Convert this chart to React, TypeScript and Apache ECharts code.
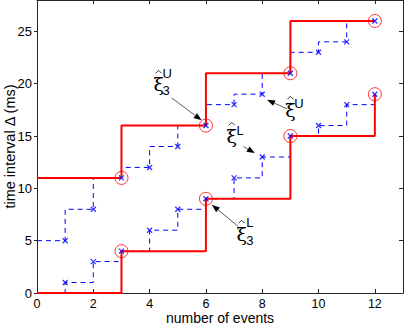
import React, { useEffect, useRef } from "react";
import * as echarts from "echarts";

// x positions (number of events) of the estimated points
const eventCounts = [1, 2, 3, 4, 5, 6, 7, 8, 9, 10, 11, 12];
// upper estimate ξ^U and lower estimate ξ^L at each event count
const upperEstimate = [5, 8, 11, 12, 14, 16, 18, 19, 21, 23, 24, 26];
const lowerEstimate = [1, 3, 4, 6, 8, 9, 11, 13, 15, 16, 18, 19];
const upperStartValue = 5;
const lowerStartValue = 0;
// bounds every 3 events
const boundEvents = [0, 3, 6, 9, 12];
const upperBound = [11, 11, 16, 21, 26];
const lowerBound = [0, 4, 9, 15, 19];

// annotations: ξ centre, arrow tail, arrow tip (data coordinates)
const annotations = [
  { sup: "U", sub: "3", at: [4.32, 19.99], tail: [4.78, 18.65], tip: [5.85, 16.5], supOff: [8.5, -10], subOff: [7.5, 7] },
  { sup: "U", sub: "", at: [9.0, 17.51], tail: [8.88, 17.6], tip: [8.17, 18.46], supOff: [8.5, -6], subOff: [0, 0] },
  { sup: "L", sub: "", at: [6.92, 15.02], tail: [7.33, 14.0], tip: [7.74, 13.37], supOff: [8.3, -5], subOff: [0, 0] },
  { sup: "L", sub: "3", at: [7.27, 5.66], tail: [7.15, 6.36], tip: [6.21, 8.43], supOff: [8.3, -11], subOff: [8.3, 7] },
];

const FONT = "Liberation Sans, Arial, Helvetica, sans-serif";
const AXIS_COLOR = "#262626";

export default function App() {
  const ref = useRef<HTMLDivElement>(null);
  useEffect(() => {
    if (!ref.current) return;
    const chart = echarts.init(ref.current, undefined, { renderer: "svg" });
    const xCommon = {
      type: "value" as const,
      min: 0,
      max: 13,
      interval: 2,
      splitLine: { show: false },
      axisLine: { show: true, onZero: false, lineStyle: { color: AXIS_COLOR, width: 1 } },
      axisTick: { show: true, inside: true, length: 4, lineStyle: { color: AXIS_COLOR } },
    };
    const yCommon = {
      type: "value" as const,
      min: 0,
      max: 28,
      interval: 5,
      splitLine: { show: false },
      axisLine: { show: true, onZero: false, lineStyle: { color: AXIS_COLOR, width: 1 } },
      axisTick: { show: true, inside: true, length: 4, lineStyle: { color: AXIS_COLOR } },
    };
    const upperLine = [[0, upperStartValue], ...eventCounts.map((x, i) => [x, upperEstimate[i]])];
    const lowerLine = [[0, lowerStartValue], ...eventCounts.map((x, i) => [x, lowerEstimate[i]])];
    const upperBoundLine = boundEvents.map((x, i) => [x, upperBound[i]]);
    const lowerBoundLine = boundEvents.map((x, i) => [x, lowerBound[i]]);
    const circles = [...upperBoundLine.slice(1), ...lowerBoundLine.slice(1)];
    const crosses = [
      ...eventCounts.map((x, i) => [x, upperEstimate[i]]),
      ...eventCounts.map((x, i) => [x, lowerEstimate[i]]),
    ];
    chart.setOption({
      animation: false,
      backgroundColor: "#fff",
      grid: { left: 37, right: 1, top: 0, bottom: 31, containLabel: false, outerBoundsMode: "none" },
      xAxis: [
        {
          ...xCommon,
          position: "bottom",
          name: "number of events",
          nameLocation: "middle",
          nameGap: 19,
          nameMoveOverlap: false,
          nameTextStyle: { fontSize: 14, lineHeight: 12, color: "#000", fontFamily: FONT },
          axisLabel: { show: true, showMaxLabel: false, margin: 5.5, fontSize: 12.5, lineHeight: 10, color: "#000", fontFamily: FONT },
        },
        { ...xCommon, position: "top", axisLabel: { show: false } },
      ],
      yAxis: [
        {
          ...yCommon,
          position: "left",
          axisTick: { show: true, inside: false, length: 3, lineStyle: { color: AXIS_COLOR } },
          name: "time interval Δ (ms)",
          nameLocation: "middle",
          nameGap: 20,
          nameMoveOverlap: false,
          nameTextStyle: { fontSize: 14.5, color: "#000", fontFamily: FONT },
          axisLabel: { show: true, showMaxLabel: false, margin: 5, fontSize: 13, color: "#000", fontFamily: FONT },
        },
        { ...yCommon, position: "right", axisLabel: { show: false } },
      ],
      series: [
        {
          type: "line",
          data: upperLine,
          step: "start",
          symbol: "none",
          lineStyle: { color: "#0000ff", width: 1, type: [5, 4] },
          z: 2,
          silent: true,
        },
        {
          type: "line",
          data: lowerLine,
          step: "end",
          symbol: "none",
          lineStyle: { color: "#0000ff", width: 1, type: [5, 4] },
          z: 2,
          silent: true,
        },
        {
          type: "line",
          data: upperBoundLine,
          step: "start",
          symbol: "none",
          lineStyle: { color: "#ff0000", width: 2 },
          z: 3,
          silent: true,
        },
        {
          type: "line",
          data: lowerBoundLine,
          step: "end",
          symbol: "none",
          lineStyle: { color: "#ff0000", width: 2 },
          z: 3,
          silent: true,
        },
        {
          type: "scatter",
          data: circles,
          symbol: "circle",
          symbolSize: 13,
          itemStyle: { color: "rgba(0,0,0,0)", borderColor: "#ff0000", borderWidth: 1 },
          z: 4,
          silent: true,
        },
        {
          type: "scatter",
          data: crosses,
          symbol: "path://M0,0L10,10M10,0L0,10",
          symbolSize: 5,
          itemStyle: { color: "none", borderColor: "#0000ff", borderWidth: 1.3 },
          z: 5,
          silent: true,
        },
      ],
    });

    const graphics: any[] = [];
    annotations.forEach((a) => {
      const c = chart.convertToPixel({ gridIndex: 0 }, a.at) as number[];
      const tail = chart.convertToPixel({ gridIndex: 0 }, a.tail) as number[];
      const tip = chart.convertToPixel({ gridIndex: 0 }, a.tip) as number[];
      const dx = tip[0] - tail[0];
      const dy = tip[1] - tail[1];
      const len = Math.sqrt(dx * dx + dy * dy);
      const ux = dx / len;
      const uy = dy / len;
      const hl = 8;
      const hw = 3;
      const bx = tip[0] - ux * hl;
      const by = tip[1] - uy * hl;
      graphics.push({
        type: "line",
        shape: { x1: tail[0], y1: tail[1], x2: bx, y2: by },
        style: { stroke: "#333", lineWidth: 0.8 },
        z: 10,
      });
      graphics.push({
        type: "polygon",
        shape: {
          points: [
            [tip[0], tip[1]],
            [bx - uy * hw, by + ux * hw],
            [bx + uy * hw, by - ux * hw],
          ],
        },
        style: { fill: "#000" },
        z: 10,
      });
      graphics.push({
        type: "text",
        x: c[0],
        y: c[1],
        style: { text: "ξ", fontSize: 19, fontFamily: "DejaVu Serif", fill: "#000", align: "center", verticalAlign: "middle" },
        z: 10,
      });
      graphics.push({
        type: "polyline",
        shape: { points: [[c[0] - 3, c[1] - 10.5], [c[0], c[1] - 13.5], [c[0] + 3, c[1] - 10.5]] },
        style: { stroke: "#000", lineWidth: 0.8, fill: "none" },
        z: 10,
      });
      graphics.push({
        type: "text",
        x: c[0] + a.supOff[0],
        y: c[1] + a.supOff[1],
        style: { text: a.sup, fontSize: 13, fontFamily: FONT, fill: "#000", align: "center", verticalAlign: "middle" },
        z: 10,
      });
      if (a.sub) {
        graphics.push({
          type: "text",
          x: c[0] + a.subOff[0],
          y: c[1] + a.subOff[1],
          style: { text: a.sub, fontSize: 13, fontFamily: FONT, fill: "#000", align: "center", verticalAlign: "middle" },
          z: 10,
        });
      }
    });
    chart.setOption({ graphic: graphics });

    return () => chart.dispose();
  }, []);
  return <div ref={ref} style={{ width: 404, height: 324, position: "absolute", left: 0, top: 0 }} />;
}
